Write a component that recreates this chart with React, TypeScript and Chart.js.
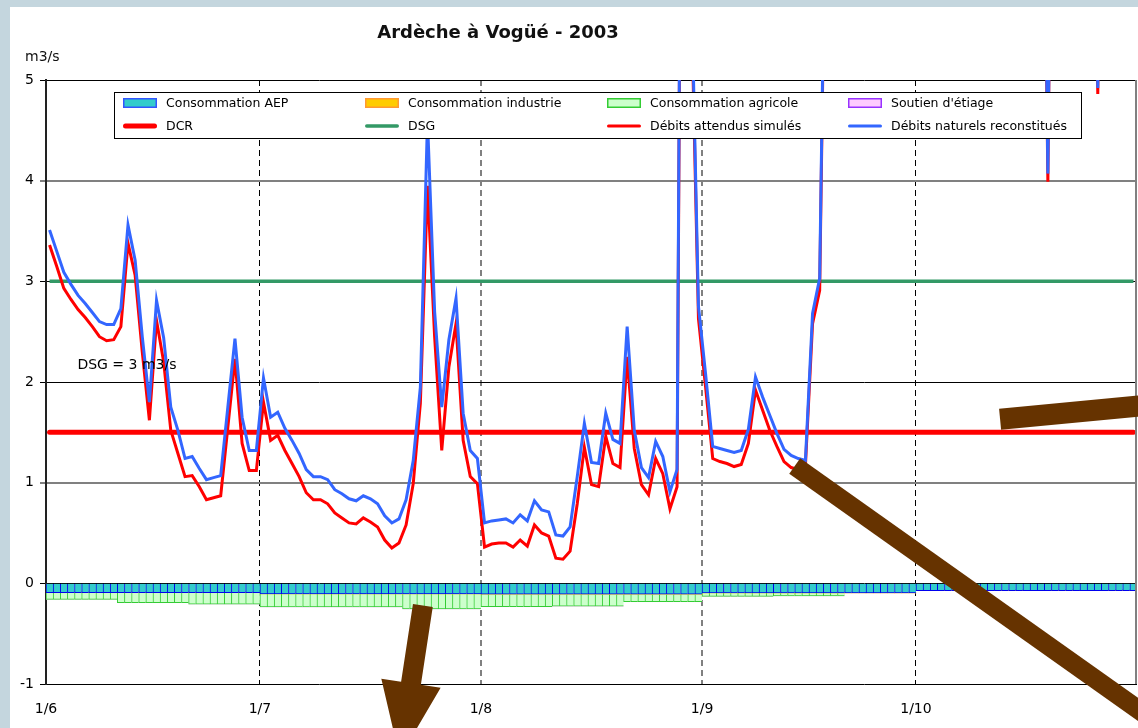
import React, { useEffect, useRef } from 'react';
import { Chart, registerables } from 'chart.js';

Chart.register(...registerables);

const FONT = "'DejaVu Sans', Verdana, sans-serif";
const PAGE_BG = '#c4d6de';

const TITLE = 'Ardèche à Vogüé - 2003';
const UNIT_LABEL = 'm3/s';
const DSG_NOTE = 'DSG = 3 m3/s';

// x axis: days counted from 1 June 2003 (1/6 .. 1/11)
const DAY_COUNT = 153;
const TICK_DAYS = [0, 30, 61, 92, 122];
const TICK_LABELS = ['1/6', '1/7', '1/8', '1/9', '1/10'];

// Débits naturels reconstitués (m3/s), one value per day from 1/6
const DEBITS_NATURELS = [
  3.51, 3.30, 3.09, 2.97, 2.86, 2.78, 2.69, 2.60, 2.57, 2.57,
  2.73, 3.56, 3.21, 2.45, 1.80, 2.81, 2.44, 1.75, 1.52, 1.24,
  1.26, 1.14, 1.03, 1.05, 1.07, 1.75, 2.43, 1.65, 1.32, 1.32,
  2.04, 1.65, 1.70, 1.54, 1.42, 1.29, 1.13, 1.06, 1.06, 1.03,
  0.93, 0.89, 0.84, 0.82, 0.87, 0.84, 0.79, 0.67, 0.60, 0.64,
  0.83, 1.22, 1.95, 4.60, 2.70, 1.75, 2.42, 2.83, 1.69, 1.32,
  1.24, 0.60, 0.62, 0.63, 0.64, 0.60, 0.68, 0.62, 0.82, 0.73,
  0.71, 0.48, 0.47, 0.56, 1.06, 1.59, 1.20, 1.19, 1.69, 1.43,
  1.39, 2.55, 1.52, 1.15, 1.05, 1.41, 1.26, 0.91, 1.13, 13.5,
  6.0, 2.75, 2.08, 1.36, 1.34, 1.32, 1.30, 1.32, 1.53, 2.05,
  1.85, 1.67, 1.49, 1.33, 1.27, 1.24, 1.22, 2.68, 3.03, 8.0,
  14.2, 22.5, 18.3, 12.6, 10.4, 9.1, 8.3, 7.8, 7.5, 7.2,
  8.8, 11.5, 9.6, 8.4, 7.9, 7.6, 7.3, 7.1, 6.9, 6.8,
  7.4, 9.2, 12.8, 10.5, 9.0, 8.3, 7.9, 8.6, 9.4, 10.2,
  4.07, 11.3, 9.7, 8.6, 8.0, 7.6, 9.1, 4.92, 10.8, 9.5,
  8.7, 8.2, 7.9,
];

// Débits attendus simulés (m3/s)
const DEBITS_ATTENDUS = [
  3.36, 3.15, 2.93, 2.82, 2.72, 2.64, 2.55, 2.45, 2.41, 2.42,
  2.55, 3.38, 3.06, 2.30, 1.62, 2.61, 2.20, 1.52, 1.29, 1.06,
  1.07, 0.96, 0.83, 0.85, 0.87, 1.55, 2.23, 1.39, 1.12, 1.12,
  1.80, 1.42, 1.47, 1.32, 1.19, 1.06, 0.90, 0.83, 0.83, 0.79,
  0.70, 0.65, 0.60, 0.59, 0.65, 0.61, 0.56, 0.43, 0.35, 0.40,
  0.58, 0.99, 1.79, 3.95, 2.45, 1.32, 2.15, 2.58, 1.42, 1.06,
  0.99, 0.36, 0.39, 0.40, 0.40, 0.36, 0.43, 0.37, 0.58, 0.50,
  0.47, 0.25, 0.24, 0.32, 0.79, 1.35, 0.98, 0.96, 1.46, 1.19,
  1.15, 2.25, 1.34, 0.98, 0.88, 1.24, 1.09, 0.74, 0.96, 13.3,
  5.8, 2.63, 1.95, 1.24, 1.21, 1.19, 1.16, 1.18, 1.39, 1.92,
  1.72, 1.52, 1.36, 1.21, 1.15, 1.13, 1.17, 2.58, 2.91, 7.9,
  14.1, 22.4, 18.2, 12.5, 10.3, 9.0, 8.2, 7.7, 7.4, 7.1,
  8.7, 11.4, 9.5, 8.3, 7.8, 7.5, 7.2, 7.0, 6.8, 6.7,
  7.3, 9.1, 12.7, 10.4, 8.9, 8.2, 7.8, 8.5, 9.3, 10.1,
  3.99, 11.2, 9.6, 8.5, 7.9, 7.5, 9.0, 4.86, 10.7, 9.4,
  8.6, 8.1, 7.8,
];

// Reference flows (m3/s)
const DCR_VALUE = 1.5;
const DSG_VALUE = 3;

// Consommation AEP: monthly values (negative = withdrawal)
const AEP_PERIOD_START = [0, 30, 61, 92, 122];
const AEP_PERIOD_VALUE = [-0.093, -0.105, -0.108, -0.095, -0.073];

// Consommation agricole: ten-day values
const AGRI_PERIOD_START = [0, 10, 20, 30, 40, 50, 61, 71, 81, 92, 102, 112];
const AGRI_PERIOD_VALUE = [-0.066, -0.100, -0.113, -0.130, -0.130, -0.150, -0.125, -0.120, -0.075, -0.035, -0.030, 0];

// Consommation industrie / Soutien d'étiage: nil over the period
const INDUSTRIE_PERIOD_START = [0];
const INDUSTRIE_PERIOD_VALUE = [0];
const SOUTIEN_PERIOD_START = [0];
const SOUTIEN_PERIOD_VALUE = [0];

// Hand-drawn arrows laid over the chart, in data coordinates (day, m3/s)
const ARROWS = [
  { from: [52.85, -0.22], to: [49.6, -1.73], width: 20, headLen: 75, headWidth: 60 },
  { from: [105.0, 1.165], to: [156.1, -1.4], width: 19, headLen: 0, headWidth: 0 },
  { from: [133.8, 1.63], to: [156.1, 1.78], width: 21, headLen: 0, headWidth: 0 },
];

function periodSeries(starts: number[], values: number[]) {
  const out: { x: number; y: number }[] = [];
  for (let d = 0; d < DAY_COUNT; d++) {
    let k = 0;
    for (let j = 0; j < starts.length; j++) if (starts[j] <= d) k = j;
    out.push({ x: d + 0.5, y: values[k] });
  }
  return out;
}

function dailySeries(values: number[]) {
  return values.map((v, i) => ({ x: i + 0.5, y: v }));
}

function constSeries(v: number) {
  const out: { x: number; y: number }[] = [];
  for (let d = 0; d < DAY_COUNT; d++) out.push({ x: d + 0.5, y: v });
  return out;
}

function drawArrow(ctx: CanvasRenderingContext2D, x1: number, y1: number, x2: number, y2: number, w: number, headLen: number, headW: number) {
  const dx = x2 - x1, dy = y2 - y1;
  const len = Math.hypot(dx, dy);
  const ux = dx / len, uy = dy / len;
  const nx = -uy, ny = ux;
  const shaft = headLen > 0 ? len - headLen : len;
  const bx = x1 + ux * shaft, by = y1 + uy * shaft;
  ctx.beginPath();
  ctx.moveTo(x1 + nx * w / 2, y1 + ny * w / 2);
  ctx.lineTo(bx + nx * w / 2, by + ny * w / 2);
  if (headLen > 0) {
    ctx.lineTo(bx + nx * headW / 2, by + ny * headW / 2);
    ctx.lineTo(x2, y2);
    ctx.lineTo(bx - nx * headW / 2, by - ny * headW / 2);
  }
  ctx.lineTo(bx - nx * w / 2, by - ny * w / 2);
  ctx.lineTo(x1 - nx * w / 2, y1 - ny * w / 2);
  ctx.closePath();
  ctx.fill();
}

const overlayPlugin = {
  id: 'overlay',
  afterDraw(chart: any) {
    const { ctx, chartArea: a, scales } = chart;
    const xs = scales.x, ys = scales.y;
    ctx.save();

    // right frame of plot area
    ctx.strokeStyle = '#808080';
    ctx.lineWidth = 2;
    ctx.beginPath();
    ctx.moveTo(a.right - 1, a.top);
    ctx.lineTo(a.right - 1, a.bottom);
    ctx.stroke();

    // DSG note
    ctx.fillStyle = '#000';
    ctx.font = `14px ${FONT}`;
    ctx.textAlign = 'left';
    ctx.textBaseline = 'middle';
    ctx.fillText(DSG_NOTE, xs.getPixelForValue(4.4), ys.getPixelForValue(2.17));

    // legend box
    const L = { x: 104.5, y: 85.5, w: 967, h: 46, colX: [113, 355, 597, 838], rowY: [96, 119], sw: 34, sh: 10, dx: 43 };
    ctx.fillStyle = '#fff';
    ctx.fillRect(L.x, L.y, L.w, L.h);
    ctx.strokeStyle = '#000';
    ctx.lineWidth = 1;
    ctx.strokeRect(L.x, L.y, L.w, L.h);
    chart.data.datasets.forEach((ds: any, i: number) => {
      const col = i % 4, row = Math.floor(i / 4);
      const sx = L.colX[col], cy = L.rowY[row];
      if (ds.type === 'bar') {
        ctx.fillStyle = ds.backgroundColor;
        ctx.fillRect(sx, cy - L.sh / 2, L.sw, L.sh);
        ctx.strokeStyle = ds.legendBorder;
        ctx.lineWidth = 1.5;
        ctx.strokeRect(sx + 0.75, cy - L.sh / 2 + 0.75, L.sw - 1.5, L.sh - 1.5);
      } else {
        ctx.strokeStyle = ds.borderColor;
        ctx.lineWidth = ds.borderWidth;
        ctx.lineCap = 'round';
        ctx.beginPath();
        ctx.moveTo(sx + ds.borderWidth / 2, cy);
        ctx.lineTo(sx + L.sw - ds.borderWidth / 2, cy);
        ctx.stroke();
        ctx.lineCap = 'butt';
      }
      ctx.fillStyle = '#000';
      ctx.font = `12.5px ${FONT}`;
      ctx.textAlign = 'left';
      ctx.textBaseline = 'middle';
      ctx.fillText(ds.label, sx + L.dx, cy + 0.5);
    });

    // title and unit
    ctx.fillStyle = '#111';
    ctx.font = `bold 18px ${FONT}`;
    ctx.textAlign = 'center';
    ctx.textBaseline = 'middle';
    ctx.fillText(TITLE, 488, 26);
    ctx.font = `14px ${FONT}`;
    ctx.textAlign = 'left';
    ctx.fillText(UNIT_LABEL, 15, 50);

    // annotation arrows
    ctx.fillStyle = '#663300';
    ARROWS.forEach((ar) => {
      drawArrow(
        ctx,
        xs.getPixelForValue(ar.from[0]), ys.getPixelForValue(ar.from[1]),
        xs.getPixelForValue(ar.to[0]), ys.getPixelForValue(ar.to[1]),
        ar.width, ar.headLen, ar.headWidth,
      );
    });
    ctx.restore();
  },
};

export default function App() {
  const ref = useRef<HTMLCanvasElement>(null);

  useEffect(() => {
    const canvas = ref.current;
    if (!canvas) return;
    const barCommon = {
      type: 'bar' as const,
      stack: 'conso',
      barPercentage: 1,
      categoryPercentage: 1,
      borderSkipped: false as const,
    };
    const chart = new Chart(canvas, {
      type: 'bar',
      data: {
        datasets: [
          {
            ...barCommon,
            label: 'Consommation AEP',
            data: periodSeries(AEP_PERIOD_START, AEP_PERIOD_VALUE),
            backgroundColor: '#33cccc',
            borderColor: '#0000ee',
            legendBorder: '#3355ff',
            borderWidth: { left: 1, right: 0, top: 0, bottom: 1 },
            order: 10,
          } as any,
          {
            ...barCommon,
            label: 'Consommation industrie',
            data: periodSeries(INDUSTRIE_PERIOD_START, INDUSTRIE_PERIOD_VALUE),
            backgroundColor: '#ffcc00',
            borderColor: '#ff9933',
            legendBorder: '#ff9933',
            borderWidth: 0,
            order: 11,
          } as any,
          {
            ...barCommon,
            label: 'Consommation agricole',
            data: periodSeries(AGRI_PERIOD_START, AGRI_PERIOD_VALUE),
            backgroundColor: '#ccffcc',
            borderColor: '#33cc33',
            legendBorder: '#33cc33',
            borderWidth: { left: 1, right: 0, top: 0, bottom: 1 },
            order: 12,
          } as any,
          {
            ...barCommon,
            label: "Soutien d'étiage",
            data: periodSeries(SOUTIEN_PERIOD_START, SOUTIEN_PERIOD_VALUE),
            backgroundColor: '#ffccff',
            borderColor: '#9933ff',
            legendBorder: '#9933ff',
            borderWidth: 0,
            order: 13,
          } as any,
          {
            type: 'line',
            label: 'DCR',
            data: constSeries(DCR_VALUE),
            borderColor: '#ff0000',
            borderWidth: 5,
            borderCapStyle: 'round',
            pointRadius: 0,
            order: 3,
          } as any,
          {
            type: 'line',
            label: 'DSG',
            data: constSeries(DSG_VALUE),
            borderColor: '#339966',
            borderWidth: 3.5,
            pointRadius: 0,
            order: 4,
          } as any,
          {
            type: 'line',
            label: 'Débits attendus simulés',
            data: dailySeries(DEBITS_ATTENDUS),
            borderColor: '#ff0000',
            borderWidth: 3,
            pointRadius: 0,
            order: 1,
          } as any,
          {
            type: 'line',
            label: 'Débits naturels reconstitués',
            data: dailySeries(DEBITS_NATURELS),
            borderColor: '#3366ff',
            borderWidth: 3,
            pointRadius: 0,
            order: 0,
          } as any,
        ],
      },
      options: {
        responsive: false,
        animation: false,
        devicePixelRatio: 1,
        layout: { padding: { top: 73, right: 1, left: 0, bottom: 0 } },
        plugins: {
          legend: { display: false },
          tooltip: { enabled: false },
          title: { display: false },
        },
        scales: {
          x: {
            type: 'linear',
            offset: false,
            min: 0,
            max: DAY_COUNT,
            afterBuildTicks: (s: any) => {
              s.ticks = TICK_DAYS.map((v) => ({ value: v }));
            },
            afterFit: (s: any) => {
              s.height = 44;
            },
            ticks: {
              autoSkip: false,
              maxRotation: 0,
              padding: 17,
              color: '#000',
              font: { family: FONT, size: 14 },
              callback: (v: any) => {
                const k = TICK_DAYS.indexOf(Number(v));
                return k >= 0 ? TICK_LABELS[k] : '';
              },
            },
            grid: {
              offset: false,
              drawTicks: false,
              color: (c: any) => (c.index === 0 ? 'rgba(0,0,0,0)' : (c.index === 2 || c.index === 3 ? '#808080' : '#000')),
              lineWidth: (c: any) => (c.index === 2 || c.index === 3 ? 2 : 1),
            },
            border: { display: false, dash: [6, 4] },
          },
          y: {
            type: 'linear',
            min: -1,
            max: 5,
            afterFit: (s: any) => {
              s.width = 36;
            },
            ticks: {
              stepSize: 1,
              padding: 6,
              color: '#000',
              font: { family: FONT, size: 14 },
            },
            grid: {
              color: (c: any) => (c.tick && (c.tick.value === 1 || c.tick.value === 4) ? '#808080' : '#000'),
              lineWidth: (c: any) => (c.tick && (c.tick.value === 1 || c.tick.value === 4) ? 2 : 1),
              tickLength: 6,
              tickColor: '#000',
              tickWidth: 1,
            },
            border: { display: true, color: '#222', width: 2 },
          },
        },
      } as any,
      plugins: [overlayPlugin],
    });
    return () => chart.destroy();
  }, []);

  return (
    <div style={{ position: 'fixed', left: 0, top: 0, width: 1138, height: 728, overflow: 'hidden', background: PAGE_BG }}>
      <div style={{ position: 'absolute', left: 10, top: 7, width: 1128, height: 721, background: '#fff' }}>
        <canvas ref={ref} width={1128} height={721} style={{ display: 'block', width: 1128, height: 721 }} />
      </div>
    </div>
  );
}
